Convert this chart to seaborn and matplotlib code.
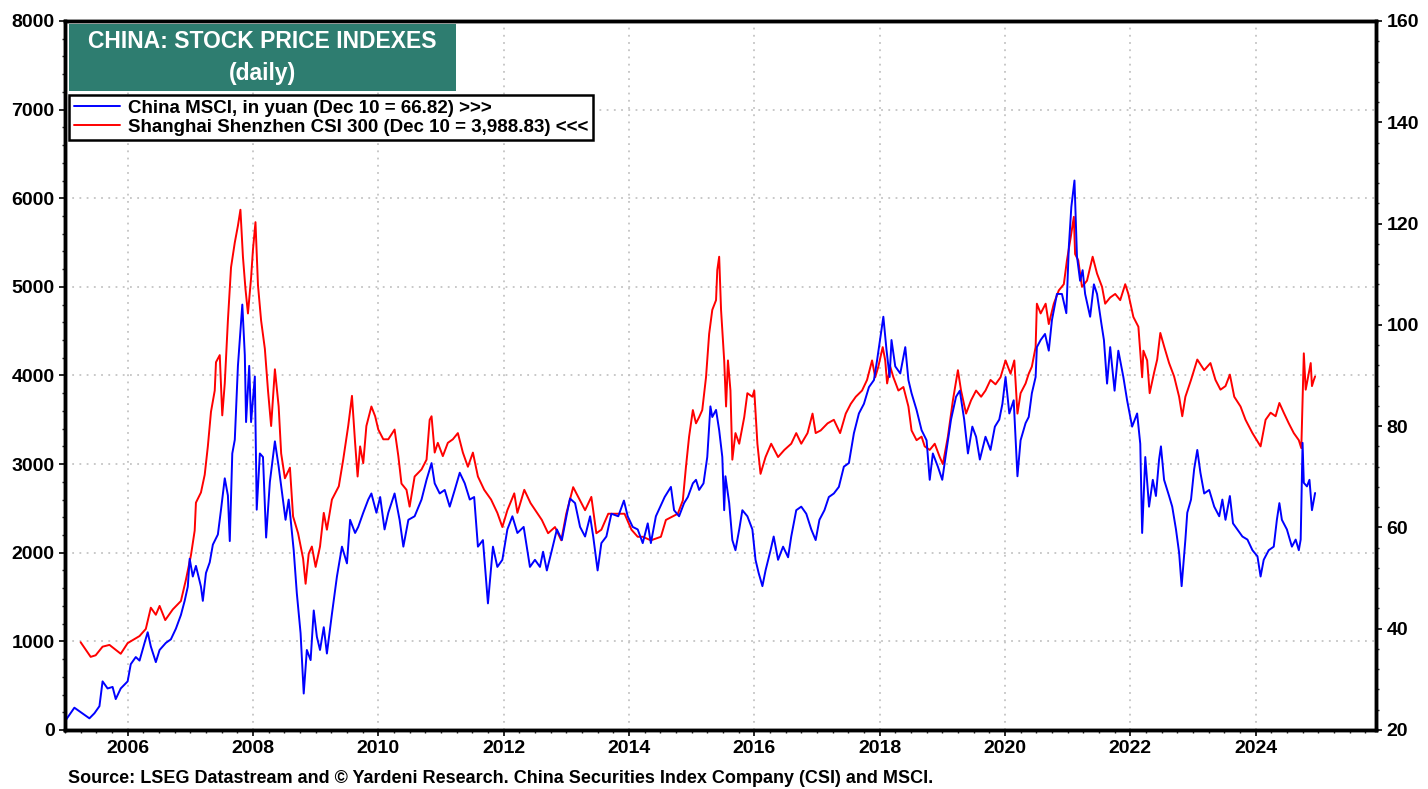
import matplotlib
matplotlib.use("Agg")
import matplotlib.pyplot as plt
from matplotlib.patches import Rectangle
from matplotlib.ticker import MultipleLocator, FixedLocator
import pandas as pd
import seaborn as sns

# CSI 300 (left axis)
csi_year = [
    2005.25, 2005.41, 2005.49, 2005.60, 2005.71, 2005.89, 2006.00, 2006.19, 2006.29, 2006.37,
    2006.45, 2006.51, 2006.60, 2006.72, 2006.85, 2006.93, 2007.01, 2007.07, 2007.09, 2007.17,
    2007.23, 2007.28, 2007.33, 2007.39, 2007.41, 2007.47, 2007.51, 2007.55, 2007.60, 2007.65,
    2007.71, 2007.76, 2007.80, 2007.84, 2007.88, 2007.92, 2007.97, 2008.00, 2008.04, 2008.08,
    2008.13, 2008.19, 2008.24, 2008.29, 2008.35, 2008.41, 2008.45, 2008.51, 2008.59, 2008.64,
    2008.72, 2008.80, 2008.84, 2008.89, 2008.94, 2009.00, 2009.07, 2009.13, 2009.18, 2009.26,
    2009.37, 2009.44, 2009.52, 2009.58, 2009.63, 2009.67, 2009.71, 2009.76, 2009.81, 2009.89,
    2009.95, 2010.00, 2010.08, 2010.16, 2010.26, 2010.32, 2010.37, 2010.45, 2010.50, 2010.58,
    2010.69, 2010.77, 2010.82, 2010.85, 2010.90, 2010.95, 2011.03, 2011.11, 2011.19, 2011.27,
    2011.35, 2011.43, 2011.51, 2011.59, 2011.69, 2011.80, 2011.90, 2011.98, 2012.06, 2012.17,
    2012.22, 2012.33, 2012.43, 2012.61, 2012.71, 2012.82, 2012.92, 2013.00, 2013.11, 2013.19,
    2013.30, 2013.40, 2013.48, 2013.56, 2013.67, 2013.80, 2013.93, 2014.04, 2014.14, 2014.22,
    2014.35, 2014.51, 2014.59, 2014.70, 2014.78, 2014.86, 2014.91, 2014.96, 2015.02, 2015.07,
    2015.12, 2015.17, 2015.23, 2015.28, 2015.33, 2015.39, 2015.41, 2015.44, 2015.47, 2015.52,
    2015.55, 2015.58, 2015.62, 2015.65, 2015.70, 2015.76, 2015.84, 2015.89, 2015.97, 2016.00,
    2016.05, 2016.10, 2016.18, 2016.27, 2016.38, 2016.48, 2016.59, 2016.67, 2016.75, 2016.85,
    2016.93, 2016.98, 2017.06, 2017.17, 2017.27, 2017.37, 2017.46, 2017.54, 2017.62, 2017.72,
    2017.80, 2017.88, 2017.93, 2017.98, 2018.05, 2018.09, 2018.12, 2018.17, 2018.22, 2018.30,
    2018.38, 2018.46, 2018.51, 2018.59, 2018.67, 2018.72, 2018.80, 2018.88, 2018.96, 2019.01,
    2019.09, 2019.17, 2019.25, 2019.30, 2019.38, 2019.46, 2019.54, 2019.62, 2019.69, 2019.77,
    2019.85, 2019.93, 2020.01, 2020.09, 2020.15, 2020.20, 2020.25, 2020.33, 2020.38, 2020.43,
    2020.49, 2020.51, 2020.57, 2020.65, 2020.70, 2020.78, 2020.86, 2020.94, 2020.99, 2021.05,
    2021.10, 2021.12, 2021.17, 2021.23, 2021.31, 2021.40, 2021.47, 2021.55, 2021.60, 2021.68,
    2021.76, 2021.84, 2021.92, 2021.97, 2022.05, 2022.13, 2022.19, 2022.21, 2022.27, 2022.31,
    2022.38, 2022.43, 2022.48, 2022.54, 2022.62, 2022.70, 2022.78, 2022.83, 2022.88, 2022.97,
    2023.07, 2023.18, 2023.28, 2023.36, 2023.44, 2023.52, 2023.59, 2023.66, 2023.76, 2023.84,
    2023.95, 2024.08, 2024.16, 2024.24, 2024.32, 2024.38, 2024.45, 2024.53, 2024.61, 2024.69,
    2024.73, 2024.75, 2024.77, 2024.80, 2024.85, 2024.88, 2024.90, 2024.93, 2024.95,
]
csi_value = [
    990, 825, 843, 940, 960, 860, 980, 1060, 1140, 1380,
    1300, 1400, 1240, 1360, 1455, 1695, 1970, 2250, 2565, 2680,
    2880, 3200, 3590, 3830, 4150, 4230, 3550, 3910, 4620, 5220,
    5500, 5690, 5870, 5340, 4980, 4700, 5100, 5420, 5730, 5020,
    4620, 4300, 3830, 3430, 4070, 3650, 3120, 2840, 2960, 2410,
    2220, 1935, 1650, 1990, 2070, 1840, 2070, 2450, 2260, 2600,
    2750, 3050, 3430, 3770, 3240, 2860, 3200, 3010, 3430, 3650,
    3540, 3390, 3280, 3280, 3390, 3090, 2780, 2710, 2520, 2860,
    2940, 3050, 3500, 3540, 3130, 3240, 3090, 3240, 3280, 3350,
    3130, 2970, 3130, 2860, 2710, 2600, 2450, 2290, 2480, 2670,
    2450, 2710, 2560, 2370, 2220, 2290, 2140, 2440, 2740, 2630,
    2480, 2630, 2220, 2260, 2440, 2440, 2440, 2260, 2180, 2180,
    2140, 2180, 2370, 2410, 2440, 2590, 2970, 3310, 3610, 3460,
    3530, 3610, 3980, 4470, 4740, 4850, 5190, 5340, 4740, 4170,
    3650, 4170, 3830, 3050, 3350, 3230, 3530, 3800, 3760, 3830,
    3230, 2890, 3080, 3230, 3080, 3160, 3230, 3350, 3230, 3350,
    3570, 3350, 3380, 3460, 3500, 3350, 3570, 3680, 3760, 3830,
    3950, 4170, 3980, 4100, 4320, 4170, 3910, 4100, 3980, 3830,
    3870, 3650, 3380, 3270, 3310, 3200, 3160, 3230, 3080, 3000,
    3310, 3720, 4060, 3830, 3570, 3720, 3830, 3760, 3830, 3950,
    3900, 3980, 4170, 4020, 4170, 3570, 3800, 3910, 4020, 4100,
    4320, 4810, 4700, 4810, 4580, 4810, 4960, 5030, 5300, 5560,
    5790, 5370, 5300, 5000, 5070, 5340, 5150, 5000, 4810, 4880,
    4920, 4850, 5030, 4920, 4660, 4550, 3980, 4280, 4170, 3800,
    4030, 4180, 4480, 4330, 4140, 3990, 3760, 3540, 3760, 3950,
    4180, 4060, 4140, 3950, 3840, 3880, 4010, 3760, 3650, 3500,
    3350, 3200, 3500, 3580, 3540, 3690, 3580, 3460, 3350, 3270,
    3180, 3730, 4250, 3840, 4030, 4140, 3880, 3950, 3989,
]

# MSCI China in yuan (right axis)
msci_year = [
    2005.01, 2005.15, 2005.23, 2005.31, 2005.39, 2005.47, 2005.55, 2005.60, 2005.68, 2005.76,
    2005.81, 2005.89, 2006.00, 2006.05, 2006.13, 2006.19, 2006.27, 2006.32, 2006.37, 2006.45,
    2006.51, 2006.61, 2006.69, 2006.77, 2006.85, 2006.91, 2006.96, 2006.99, 2007.04, 2007.09,
    2007.17, 2007.20, 2007.25, 2007.31, 2007.36, 2007.44, 2007.49, 2007.55, 2007.60, 2007.63,
    2007.67, 2007.71, 2007.76, 2007.80, 2007.83, 2007.87, 2007.89, 2007.94, 2007.97, 2008.03,
    2008.06, 2008.11, 2008.16, 2008.21, 2008.27, 2008.35, 2008.41, 2008.52, 2008.57, 2008.65,
    2008.70, 2008.76, 2008.81, 2008.86, 2008.92, 2008.97, 2009.02, 2009.07, 2009.13, 2009.18,
    2009.26, 2009.34, 2009.42, 2009.50, 2009.55, 2009.63, 2009.68, 2009.76, 2009.84, 2009.89,
    2009.97, 2010.03, 2010.10, 2010.16, 2010.26, 2010.34, 2010.40, 2010.48, 2010.58, 2010.69,
    2010.77, 2010.85, 2010.90, 2010.98, 2011.06, 2011.14, 2011.22, 2011.30, 2011.38, 2011.46,
    2011.53, 2011.59, 2011.67, 2011.75, 2011.83, 2011.90, 2011.98, 2012.06, 2012.14, 2012.22,
    2012.32, 2012.42, 2012.50, 2012.58, 2012.63, 2012.69, 2012.77, 2012.85, 2012.93, 2013.01,
    2013.06, 2013.14, 2013.22, 2013.30, 2013.38, 2013.43, 2013.50, 2013.56, 2013.64, 2013.72,
    2013.83, 2013.92, 2013.98, 2014.06, 2014.14, 2014.22, 2014.30, 2014.35, 2014.43, 2014.57,
    2014.67, 2014.72, 2014.80, 2014.88, 2014.94, 2015.02, 2015.07, 2015.12, 2015.19, 2015.25,
    2015.30, 2015.33, 2015.39, 2015.44, 2015.49, 2015.52, 2015.54, 2015.60, 2015.65, 2015.70,
    2015.76, 2015.81, 2015.89, 2015.97, 2016.02, 2016.07, 2016.13, 2016.18, 2016.26, 2016.31,
    2016.38, 2016.46, 2016.54, 2016.59, 2016.67, 2016.75, 2016.83, 2016.91, 2016.98, 2017.04,
    2017.12, 2017.19, 2017.27, 2017.35, 2017.43, 2017.51, 2017.59, 2017.67, 2017.75, 2017.83,
    2017.91, 2017.96, 2018.02, 2018.06, 2018.11, 2018.16, 2018.19, 2018.25, 2018.33, 2018.41,
    2018.46, 2018.51, 2018.59, 2018.67, 2018.75, 2018.80, 2018.85, 2018.93, 2019.00, 2019.06,
    2019.14, 2019.22, 2019.28, 2019.35, 2019.41, 2019.48, 2019.54, 2019.60, 2019.69, 2019.77,
    2019.84, 2019.91, 2019.96, 2020.01, 2020.07, 2020.14, 2020.20, 2020.25, 2020.33, 2020.38,
    2020.43, 2020.49, 2020.51, 2020.57, 2020.64, 2020.70, 2020.75, 2020.83, 2020.91, 2020.98,
    2021.02, 2021.06, 2021.11, 2021.15, 2021.20, 2021.24, 2021.28, 2021.36, 2021.42, 2021.47,
    2021.54, 2021.58, 2021.63, 2021.68, 2021.75, 2021.81, 2021.89, 2021.95, 2022.03, 2022.11,
    2022.16, 2022.19, 2022.24, 2022.30, 2022.36, 2022.41, 2022.46, 2022.49, 2022.54, 2022.62,
    2022.67, 2022.73, 2022.78, 2022.82, 2022.88, 2022.91, 2022.97, 2023.02, 2023.07, 2023.12,
    2023.18, 2023.26, 2023.34, 2023.42, 2023.47, 2023.52, 2023.59, 2023.64, 2023.71, 2023.79,
    2023.87, 2023.95, 2024.03, 2024.08, 2024.13, 2024.21, 2024.29, 2024.34, 2024.38, 2024.42,
    2024.50, 2024.58, 2024.64, 2024.69, 2024.72, 2024.75, 2024.77, 2024.82, 2024.86, 2024.90,
    2024.93, 2024.95,
]
msci_value = [
    21.9, 24.4, 23.7, 23.0, 22.3, 23.3, 24.7, 29.6, 28.2, 28.5,
    26.1, 28.2, 29.6, 33.0, 34.4, 33.7, 37.2, 39.3, 36.5, 33.4,
    35.8, 37.2, 37.9, 40.0, 42.7, 45.5, 48.3, 53.8, 50.3, 52.4,
    48.3, 45.5, 51.0, 53.1, 56.6, 58.6, 63.5, 69.7, 66.3, 57.3,
    74.6, 77.3, 91.9, 98.8, 104.0, 94.0, 80.8, 91.9, 80.8, 89.8,
    63.5, 74.6, 73.9, 58.0, 69.0, 77.0, 72.0, 61.5, 65.5, 55.5,
    47.0, 39.1, 27.2, 35.8, 33.8, 43.6, 38.4, 35.8, 40.3, 35.1,
    42.9, 50.3, 56.2, 52.9, 61.5, 58.9, 60.1, 62.9, 65.5, 66.7,
    62.9, 66.0, 59.6, 62.9, 66.7, 61.5, 56.2, 61.5, 62.2, 65.5,
    69.4, 72.7, 68.7, 66.7, 67.4, 64.1, 67.4, 70.8, 68.7, 65.5,
    66.0, 56.2, 57.5, 45.0, 56.2, 52.2, 53.6, 59.6, 62.2, 58.9,
    60.1, 52.2, 53.6, 52.2, 55.2, 51.5, 55.5, 59.6, 57.5, 62.7,
    65.7, 64.8, 60.1, 58.2, 62.2, 58.2, 51.5, 56.9, 58.2, 62.7,
    62.2, 65.3, 62.2, 60.1, 59.6, 56.9, 60.8, 56.9, 62.2, 66.0,
    68.0, 63.4, 62.2, 64.8, 66.0, 68.7, 69.4, 67.4, 68.7, 73.9,
    83.9, 81.8, 83.2, 79.2, 73.9, 63.4, 70.1, 64.8, 57.5, 55.5,
    59.6, 63.4, 62.2, 59.6, 53.6, 51.0, 48.4, 51.5, 55.5, 58.2,
    53.6, 56.2, 54.1, 58.2, 63.4, 64.1, 62.7, 59.6, 57.5, 61.5,
    63.4, 66.0, 66.7, 68.0, 72.0, 72.7, 78.6, 82.5, 84.4, 87.7,
    89.1, 93.0, 98.2, 101.6, 95.1, 89.7, 97.0, 91.8, 90.4, 95.6,
    89.1, 86.5, 83.2, 79.2, 77.2, 69.4, 74.6, 72.0, 69.4, 74.6,
    81.3, 85.8, 87.0, 81.3, 74.6, 79.9, 77.9, 73.4, 77.9, 75.3,
    79.9, 81.3, 84.4, 89.7, 82.5, 85.1, 70.1, 77.2, 80.6, 81.8,
    86.5, 89.7, 95.6, 97.0, 98.2, 94.9, 100.9, 106.1, 106.1, 102.3,
    115.4, 123.3, 128.5, 113.5, 108.7, 110.8, 106.1, 101.6, 108.0, 106.1,
    100.2, 97.0, 88.4, 95.6, 87.0, 94.9, 89.7, 85.1, 79.9, 82.5,
    76.5, 58.9, 73.9, 64.1, 69.4, 66.2, 73.4, 76.0, 69.4, 66.2,
    64.1, 59.6, 55.0, 48.4, 57.6, 62.9, 65.5, 71.5, 75.3, 70.8,
    66.7, 67.4, 64.1, 62.2, 65.5, 61.5, 66.2, 60.8, 59.6, 58.2,
    57.6, 55.5, 54.3, 50.3, 53.6, 55.5, 56.2, 61.5, 64.8, 61.5,
    59.6, 56.2, 57.6, 55.5, 57.6, 76.7, 68.8, 68.1, 69.4, 63.4,
    65.5, 66.8,
]

msci_label = "China MSCI, in yuan (Dec 10 = 66.82) >>>"
csi_label = "Shanghai Shenzhen CSI 300 (Dec 10 = 3,988.83) <<<"
title_lines = "CHINA: STOCK PRICE INDEXES\n(daily)"
source_text = ("Source: LSEG Datastream and \u00a9 Yardeni Research. "
               "China Securities Index Company (CSI) and MSCI.")
year_ticks = list(range(2006, 2025, 2))

csi_df = pd.DataFrame({"year": csi_year, "value": csi_value})
msci_df = pd.DataFrame({"year": msci_year, "value": msci_value})

sns.set_style("white")
plt.rcParams["font.family"] = ["Liberation Sans", "DejaVu Sans"]
plt.rcParams["font.weight"] = "bold"
plt.rcParams["text.color"] = "black"

fig = plt.figure(figsize=(14.28, 7.89), dpi=100)
ax = fig.add_axes([0.0455, 0.0748, 0.918, 0.8986])
ax2 = ax.twinx()

sns.lineplot(data=csi_df, x="year", y="value", ax=ax, color="#ff0000",
             linewidth=1.4, label=csi_label, legend=False)
sns.lineplot(data=msci_df, x="year", y="value", ax=ax2, color="#0000ff",
             linewidth=1.4, label=msci_label, legend=False)

ax.set_xlim(2005.0, 2025.92)
ax.set_ylim(0, 8000)
ax2.set_ylim(20, 160)

ax.xaxis.set_major_locator(FixedLocator(year_ticks))
ax.xaxis.set_minor_locator(MultipleLocator(0.25))
ax.set_xticklabels([str(y) for y in year_ticks])
ax.yaxis.set_major_locator(MultipleLocator(1000))
ax.yaxis.set_minor_locator(MultipleLocator(200))
ax2.yaxis.set_major_locator(MultipleLocator(20))
ax2.yaxis.set_minor_locator(MultipleLocator(4))

ax.set_xlabel("")
ax.set_ylabel("")
ax2.set_ylabel("")

ax.grid(True, which="major", linestyle=(0, (1, 3)), color="#c4c4c4", linewidth=1.3)
ax.set_axisbelow(True)

for a in (ax, ax2):
    for sp in a.spines.values():
        sp.set_visible(True)
        sp.set_color("black")
        sp.set_linewidth(2.5)
    a.tick_params(which="major", direction="out", length=4.5, width=1.2,
                  labelsize=14, pad=3, colors="black")
    a.tick_params(which="minor", direction="out", length=2.5, width=1.0)
ax.tick_params(axis="y", which="both", left=True, right=False)
ax.tick_params(axis="x", which="both", bottom=True, top=False)
ax2.tick_params(axis="y", which="both", right=True, left=False)
for lab in ax.get_xticklabels() + ax.get_yticklabels() + ax2.get_yticklabels():
    lab.set_fontweight("bold")

# title box
ax.add_patch(Rectangle((0.003, 0.901), 0.295, 0.095, transform=ax.transAxes,
                       facecolor="#2e7d70", edgecolor="none", zorder=5))
ax.text(0.1505, 0.9485, title_lines, transform=ax.transAxes, ha="center",
        va="center", color="white", fontsize=16.5, fontweight="bold",
        linespacing=1.55, zorder=6)

# legend
h1, l1 = ax2.get_legend_handles_labels()
h2, l2 = ax.get_legend_handles_labels()
leg = ax2.legend(h1 + h2, l1 + l2, loc="upper left",
                 bbox_to_anchor=(0.003, 0.896), borderaxespad=0,
                 frameon=True, fancybox=False, framealpha=1,
                 edgecolor="black", prop={"weight": "bold", "size": 13.5},
                 handlelength=2.5, handletextpad=0.4, borderpad=0.25,
                 labelspacing=0.1)
leg.get_frame().set_linewidth(1.8)
leg.set_zorder(10)
for t in leg.get_texts():
    t.set_color("black")

fig.text(0.0476, 0.0139, source_text, ha="left", va="center",
         fontsize=13, fontweight="bold", color="black")

fig.savefig("out.png", dpi=100)
